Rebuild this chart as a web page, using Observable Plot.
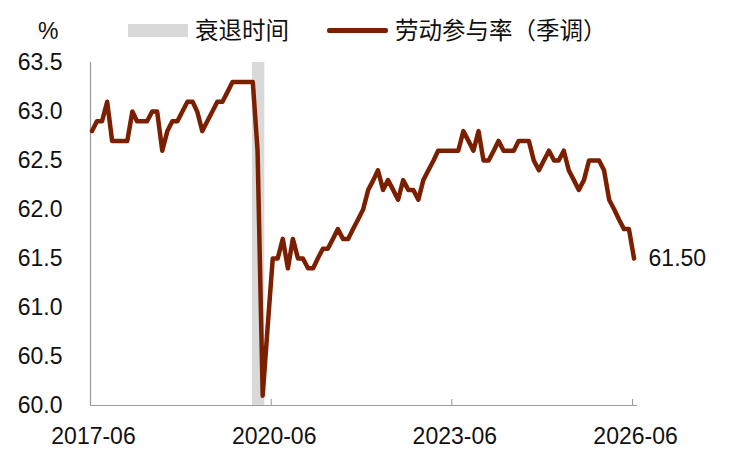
<!DOCTYPE html>
<html>
<head>
<meta charset="utf-8">
<script src="https://cdn.jsdelivr.net/npm/d3@7"></script>
<script src="https://cdn.jsdelivr.net/npm/@observablehq/plot@0.6"></script>
<style>
  html, body { margin: 0; padding: 0; background: #fff; }
  #wrap { position: relative; width: 733px; height: 454px; overflow: hidden; background: #fff; }
  #header { position: relative; width: 733px; height: 50px; }
  .t { position: absolute; white-space: nowrap; color: #111; }
  .num { font-family: "Liberation Sans", Arial, sans-serif; font-size: 23px; line-height: 23px; }
  .cjk { font-family: "Noto Sans CJK SC", sans-serif; font-size: 23.5px; line-height: 23.5px; }
</style>
</head>
<body>
<div id="wrap">
  <div id="header"></div>
  <div id="chart"></div>
</div>
<script>
// ---- data ----
const startMonth = "2017-06";
const values = [
  62.8, 62.9, 62.9, 63.1, 62.7, 62.7, 62.7, 62.7, 63.0, 62.9,
  62.9, 62.9, 63.0, 63.0, 62.6, 62.8, 62.9, 62.9, 63.0, 63.1,
  63.1, 63.0, 62.8, 62.9, 63.0, 63.1, 63.1, 63.2, 63.3, 63.3,
  63.3, 63.3, 63.3, 62.6, 60.1, 60.8, 61.5, 61.5, 61.7, 61.4,
  61.7, 61.5, 61.5, 61.4, 61.4, 61.5, 61.6, 61.6, 61.7, 61.8,
  61.7, 61.7, 61.8, 61.9, 62.0, 62.2, 62.3, 62.4, 62.2, 62.3,
  62.2, 62.1, 62.3, 62.2, 62.2, 62.1, 62.3, 62.4, 62.5, 62.6,
  62.6, 62.6, 62.6, 62.6, 62.8, 62.7, 62.6, 62.8, 62.5, 62.5,
  62.6, 62.7, 62.6, 62.6, 62.6, 62.7, 62.7, 62.7, 62.5, 62.4,
  62.5, 62.6, 62.5, 62.5, 62.6, 62.4, 62.3, 62.2, 62.3, 62.5,
  62.5, 62.5, 62.4, 62.1, 62.0, 61.9, 61.8, 61.8, 61.5
];
const recessionStart = ["2020-02"];
const recessionEnd = ["2020-04"];
const xTickLabels = ["2017-06", "2020-06", "2023-06", "2026-06"];
const yTicks = [60.0, 60.5, 61.0, 61.5, 62.0, 62.5, 63.0, 63.5];
const seriesName = "劳动参与率（季调）";
const recessionName = "衰退时间";
const unitLabel = "%";

// ---- build ----
const parseM = d3.utcParse("%Y-%m");
const fmtM = d3.utcFormat("%Y-%m");
const t0 = parseM(startMonth);
const data = values.map((v, i) => ({date: d3.utcMonth.offset(t0, i), value: v}));
const last = data[data.length - 1];
const recessions = recessionStart.map((s, i) => ({
  x1: d3.utcDay.offset(parseM(s), 7),
  x2: d3.utcDay.offset(parseM(recessionEnd[i]), 22)
}));
const xTicks = xTickLabels.map(parseM);
const xDomain = [t0, d3.utcMonth.offset(last.date, 1)];

const lineColor = "#7a2000";
const axisColor = "#9a9a9a";

// header / legend
const header = document.getElementById("header");
header.innerHTML = `
  <span class="t num" style="left:38px;top:20px;">${unitLabel}</span>
  <div style="position:absolute;left:128px;top:24px;width:60px;height:13px;background:#d9d9d9;"></div>
  <span class="t cjk" style="left:195px;top:18px;">${recessionName}</span>
  <div style="position:absolute;left:327px;top:28px;width:61px;height:4.5px;background:${lineColor};border-radius:2px;"></div>
  <span class="t cjk" style="left:395px;top:18px;">${seriesName}</span>
`;

const chart = Plot.plot({
  width: 733,
  height: 404,
  marginLeft: 90,
  marginRight: 96,
  marginTop: 12,
  marginBottom: 49,
  style: {fontFamily: "'Liberation Sans', Arial, sans-serif", fontSize: "23px", color: "#111", background: "#fff", overflow: "visible"},
  x: {type: "utc", domain: xDomain},
  y: {domain: [60, 63.5]},
  marks: [
    Plot.rect(recessions, {x1: "x1", x2: "x2", y1: 60, y2: 63.5, fill: "#d9d9d9"}),
    Plot.ruleY([60], {stroke: axisColor, strokeWidth: 1.2}),
    Plot.ruleX([t0], {stroke: axisColor, strokeWidth: 1.2}),
    Plot.axisX({ticks: xTicks.slice(1), tickSize: 6, dy: -6, stroke: axisColor, tickFormat: () => "", label: null}),
    Plot.axisX({ticks: xTicks, tickSize: 0, tickPadding: 22, dx: 3, tickFormat: fmtM, label: null, fill: "#111"}),
    Plot.axisY({ticks: yTicks, tickSize: 0, tickPadding: 28, tickFormat: d => d.toFixed(1), label: null, fill: "#111"}),
    Plot.line(data, {x: "date", y: "value", stroke: lineColor, strokeWidth: 4.5, strokeLinejoin: "round", dx: 1.5}),
    Plot.text([last], {x: "date", y: "value", text: d => d.value.toFixed(2), dx: 16, textAnchor: "start", fill: "#111", fontSize: 23})
  ]
});
document.getElementById("chart").appendChild(chart);
</script>
</body>
</html>
